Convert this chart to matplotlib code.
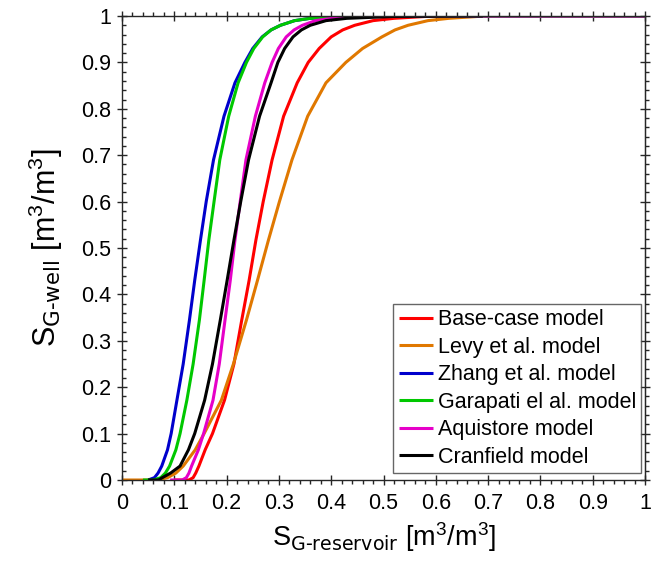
import matplotlib
matplotlib.use('Agg')
import matplotlib.pyplot as plt
from matplotlib.ticker import MultipleLocator, FixedLocator, FixedFormatter

plt.rcParams['font.family'] = ['Liberation Sans', 'DejaVu Sans']
plt.rcParams['mathtext.default'] = 'regular'

# values (S_G-well levels, then x for each curve)
levels = [0, 0.005, 0.015, 0.03, 0.065, 0.1, 0.172, 0.25, 0.345, 0.43, 0.517, 0.6,
          0.69, 0.784, 0.856, 0.9, 0.93, 0.955, 0.97, 0.98, 0.99, 0.995, 0.999, 1.0]

base_x = [0.128, 0.136, 0.141, 0.147, 0.159, 0.173, 0.196, 0.214, 0.229, 0.243, 0.256, 0.27,
          0.287, 0.309, 0.335, 0.356, 0.377, 0.40, 0.422, 0.445, 0.48, 0.52, 0.58, 0.65]
levy_x = [0.065, 0.087, 0.103, 0.117, 0.14, 0.157, 0.19, 0.213, 0.238, 0.259, 0.28, 0.301,
          0.325, 0.355, 0.39, 0.428, 0.46, 0.497, 0.522, 0.547, 0.585, 0.625, 0.68, 0.72]
zhang_x = [0.05, 0.062, 0.069, 0.076, 0.087, 0.094, 0.105, 0.117, 0.129, 0.139, 0.150, 0.161,
           0.175, 0.195, 0.216, 0.235, 0.250, 0.268, 0.285, 0.303, 0.33, 0.36, 0.42, 0.50]
garapati_x = [0.06, 0.074, 0.083, 0.091, 0.103, 0.111, 0.124, 0.136, 0.148, 0.157, 0.166, 0.176,
              0.187, 0.204, 0.222, 0.238, 0.252, 0.269, 0.285, 0.303, 0.33, 0.36, 0.42, 0.50]
aquistore_x = [0.115, 0.123, 0.128, 0.133, 0.146, 0.156, 0.174, 0.186, 0.197, 0.207, 0.216, 0.226,
               0.237, 0.255, 0.273, 0.287, 0.299, 0.314, 0.329, 0.345, 0.37, 0.40, 0.46, 0.55]
cranfield_x = [0.07, 0.077, 0.093, 0.111, 0.127, 0.139, 0.158, 0.173, 0.188, 0.201, 0.214, 0.227,
               0.242, 0.263, 0.285, 0.298, 0.311, 0.327, 0.343, 0.36, 0.39, 0.43, 0.52, 0.69]

# where each curve begins flat at zero, and where it ends (1.0 unless shorter)
starts = [0.10, 0.0, 0.05, 0.04, 0.092, 0.05]
ends = [1.0, 1.0, 1.0, 1.0, 1.0, 0.69]

labels = ['Base-case model', 'Levy et al. model', 'Zhang et al. model',
          'Garapati el al. model', 'Aquistore model', 'Cranfield model']
colors = ['#ff0000', '#e07800', '#0000cc', '#00c800', '#e600c8', '#000000']

ticks = [0, 0.1, 0.2, 0.3, 0.4, 0.5, 0.6, 0.7, 0.8, 0.9, 1]
tick_labels = ['0', '0.1', '0.2', '0.3', '0.4', '0.5', '0.6', '0.7', '0.8', '0.9', '1']

fig = plt.figure(figsize=(6.66, 5.64), dpi=100)
ax = fig.add_axes([122/666, 84/564, 523/666, 464/564])

curves = [base_x, levy_x, zhang_x, garapati_x, aquistore_x, cranfield_x]
for xs, x0, x1, lab, c in zip(curves, starts, ends, labels, colors):
    px = [x0] + xs
    py = [0] + levels
    if x1 > xs[-1]:
        px = px + [x1]
        py = py + [1.0]
    ax.plot(px, py, color=c, lw=2.2, label=lab, solid_joinstyle='round',
            solid_capstyle='butt')

ax.set_xlim(0, 1)
ax.set_ylim(0, 1)
for a in (ax.xaxis, ax.yaxis):
    a.set_major_locator(FixedLocator(ticks))
    a.set_major_formatter(FixedFormatter(tick_labels))
    a.set_minor_locator(MultipleLocator(0.02))

for s in ax.spines.values():
    s.set_color('#262626')
    s.set_linewidth(1.0)

ax.tick_params(axis='x', which='major', direction='inout', length=7, width=1,
               top=True, bottom=True, labelsize=15.5, pad=6, color='#262626')
ax.tick_params(axis='x', which='minor', direction='out', length=3, width=1,
               top=True, bottom=True, color='#262626')
ax.tick_params(axis='y', which='major', direction='inout', length=7, width=1,
               left=True, right=False, labelsize=15.5, pad=4, color='#262626')
ax.tick_params(axis='y', which='minor', direction='in', length=3, width=1,
               left=True, right=False, color='#262626')

ax2 = ax.secondary_yaxis('right')
ax2.yaxis.set_major_locator(FixedLocator(ticks))
ax2.yaxis.set_minor_locator(MultipleLocator(0.02))
ax2.tick_params(which='major', direction='inout', length=7, width=1, labelright=False,
                color='#262626')
ax2.tick_params(which='minor', direction='out', length=3, width=1, color='#262626')
ax2.spines['right'].set_color('#262626')

ax.set_xlabel(r'S$_{\text{G-reservoir}}$ [m$^3$/m$^3$]', fontsize=19.5, labelpad=4)
ax.set_ylabel(r'S$_{\text{G-well}}$ [m$^3$/m$^3$]', fontsize=22, labelpad=12)

leg = ax.legend(loc='lower right', bbox_to_anchor=(0.993, 0.015), borderaxespad=0,
                fontsize=15.5, frameon=True, fancybox=False, edgecolor='#404040',
                handlelength=1.6, handletextpad=0.2, labelspacing=0.3, borderpad=0.25)
leg.get_frame().set_linewidth(1.0)

fig.savefig('out.png', dpi=100)
